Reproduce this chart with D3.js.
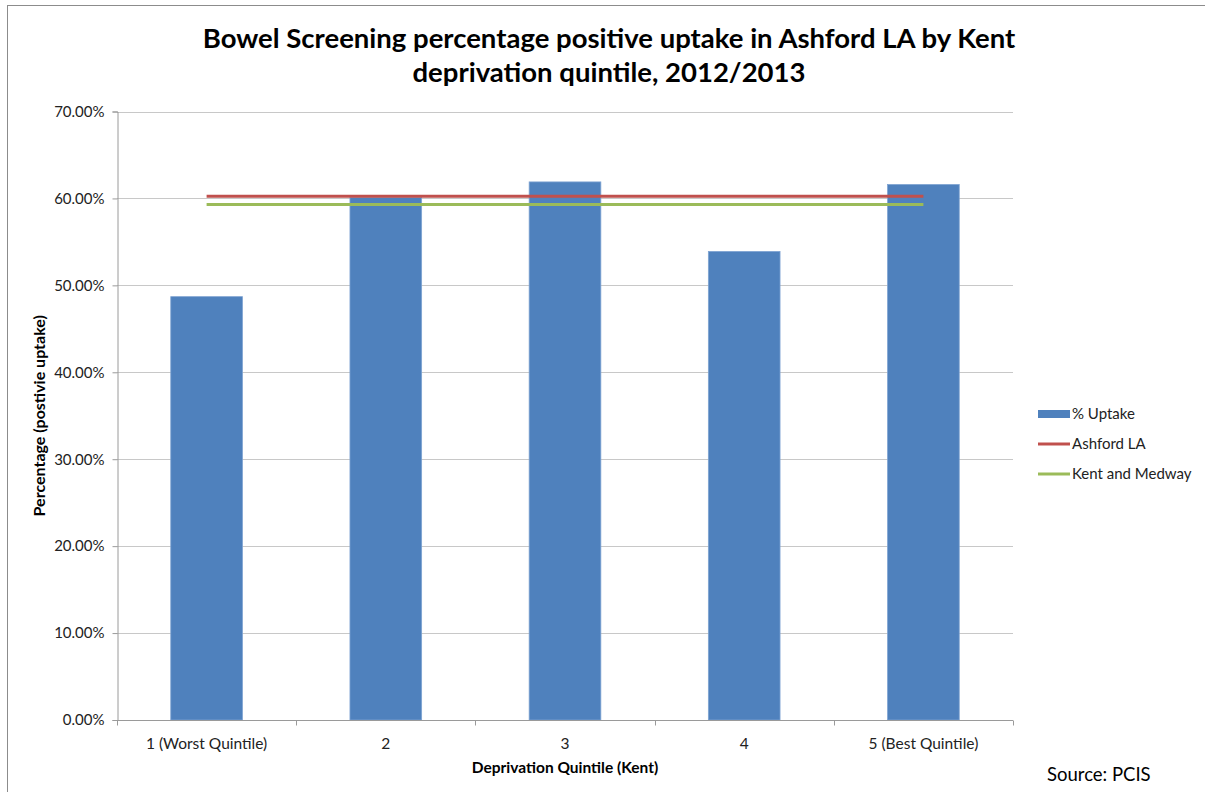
<!DOCTYPE html>
<html>
<head>
<meta charset="utf-8">
<script src="https://cdn.jsdelivr.net/npm/d3@7"></script>
<style>
  html, body { margin: 0; padding: 0; background: #fff; }
  svg { display: block; font-family: Lato, "Open Sans", "Liberation Sans", sans-serif; }
</style>
</head>
<body>
<svg id="chart" width="1205" height="792"></svg>
<script>
// Deprivation quintiles and the measured uptake in each
const categories = ["1 (Worst Quintile)", "2", "3", "4", "5 (Best Quintile)"];
const uptake = [48.7, 60.1, 61.9, 53.9, 61.6];
// Reference averages drawn as flat lines across the quintiles
const ashfordLA = [60.26, 60.26, 60.26, 60.26, 60.26];
const kentMedway = [59.3, 59.3, 59.3, 59.3, 59.3];
const yTicks = [0, 10, 20, 30, 40, 50, 60, 70];

const svg = d3.select("#chart");
const W = 1205, H = 792;
const plot = { left: 117, right: 1013, top: 111.5, bottom: 720 };

// outer chart frame
svg.append("rect")
  .attr("x", 7.5).attr("y", 5.5)
  .attr("width", W).attr("height", H)
  .attr("fill", "#fff").attr("stroke", "#8c8c8c").attr("stroke-width", 1);

const x = d3.scaleBand().domain(categories).range([plot.left, plot.right]).paddingInner(0.6).paddingOuter(0.3);
const xBoundary = d3.scaleBand().domain(categories).range([plot.left, plot.right]);
const y = d3.scaleLinear().domain([0, 70]).range([plot.bottom, plot.top]);

// horizontal gridlines
svg.append("g").selectAll("line").data(yTicks.filter(d => d > 0)).join("line")
  .attr("x1", plot.left).attr("x2", plot.right)
  .attr("y1", d => Math.round(y(d)) + 0.5).attr("y2", d => Math.round(y(d)) + 0.5)
  .attr("stroke", "#c8c8c8").attr("stroke-width", 1.2);

// y axis
const yAxis = d3.axisLeft(y).tickValues(yTicks).tickSize(5).tickPadding(8)
  .tickFormat(d => d.toFixed(2) + "%");
const gy = svg.append("g").attr("transform", `translate(${plot.left + 0.5},0)`).call(yAxis);
gy.select(".domain").attr("stroke", "#9a9a9a");
gy.selectAll(".tick line").attr("stroke", "#9a9a9a");
gy.selectAll(".tick text").attr("font-size", 15).attr("fill", "#222")
  .attr("font-family", "Lato, 'Open Sans', sans-serif");

// bars
svg.append("g").selectAll("rect").data(uptake).join("rect")
  .attr("x", (d, i) => x(categories[i]))
  .attr("width", x.bandwidth())
  .attr("y", d => y(d))
  .attr("height", d => y(0) - y(d))
  .attr("fill", "#4f81bd")
  .attr("stroke", "#7ea3d2").attr("stroke-width", 0.8);

// x axis with ticks on category boundaries
const gx = svg.append("g").attr("transform", `translate(0,${plot.bottom + 0.5})`);
gx.append("line").attr("x1", plot.left).attr("x2", plot.right)
  .attr("stroke", "#9a9a9a");
const bounds = categories.map(c => xBoundary(c)).concat([plot.right]);
gx.selectAll("line.tk").data(bounds).join("line").attr("class", "tk")
  .attr("x1", d => Math.round(d) + 0.5).attr("x2", d => Math.round(d) + 0.5)
  .attr("y1", 0).attr("y2", 5).attr("stroke", "#9a9a9a");
gx.selectAll("text").data(categories).join("text")
  .attr("x", d => xBoundary(d) + xBoundary.bandwidth() / 2)
  .attr("y", 28)
  .attr("text-anchor", "middle")
  .attr("font-size", 15.5).attr("fill", "#222")
  .text(d => d);

// average lines from the first to the last category centre
const centre = i => xBoundary(categories[i]) + xBoundary.bandwidth() / 2;
const line = d3.line().x((d, i) => centre(i)).y(d => y(d));
svg.append("path").datum(ashfordLA).attr("d", line)
  .attr("fill", "none").attr("stroke", "#c0504d").attr("stroke-width", 3);
svg.append("path").datum(kentMedway).attr("d", line)
  .attr("fill", "none").attr("stroke", "#9bbb59").attr("stroke-width", 3);

// title
const title = svg.append("text").attr("text-anchor", "middle")
  .attr("font-size", 27.5).attr("font-weight", "bold").attr("fill", "#000");
title.append("tspan").attr("x", 609).attr("y", 48)
  .text("Bowel Screening percentage positive uptake in Ashford LA by Kent");
title.append("tspan").attr("x", 609).attr("y", 82)
  .text("deprivation quintile, 2012/2013");

// axis titles
svg.append("text")
  .attr("transform", `translate(45,${(plot.top + plot.bottom) / 2}) rotate(-90)`)
  .attr("text-anchor", "middle").attr("font-size", 16).attr("font-weight", "bold")
  .attr("fill", "#000").text("Percentage (postivie uptake)");
svg.append("text")
  .attr("x", 565).attr("y", 773)
  .attr("text-anchor", "middle").attr("font-size", 15.5).attr("font-weight", "bold")
  .attr("fill", "#000").text("Deprivation Quintile (Kent)");

// legend
const legend = svg.append("g").attr("transform", "translate(1038,0)");
const items = [
  { name: "% Uptake", color: "#4f81bd", type: "bar", y: 414 },
  { name: "Ashford LA", color: "#c0504d", type: "line", y: 444 },
  { name: "Kent and Medway", color: "#9bbb59", type: "line", y: 474 }
];
items.forEach(it => {
  if (it.type === "bar") {
    legend.append("rect").attr("x", 0).attr("y", it.y - 4).attr("width", 32).attr("height", 8)
      .attr("fill", it.color);
  } else {
    legend.append("line").attr("x1", 0).attr("x2", 32).attr("y1", it.y).attr("y2", it.y)
      .attr("stroke", it.color).attr("stroke-width", 3);
  }
  legend.append("text").attr("x", 34).attr("y", it.y + 5)
    .attr("font-size", 15).attr("fill", "#222").text(it.name);
});

// source note
svg.append("text").attr("x", 1047).attr("y", 781)
  .attr("font-size", 18.5).attr("fill", "#000").text("Source: PCIS");
</script>
</body>
</html>
